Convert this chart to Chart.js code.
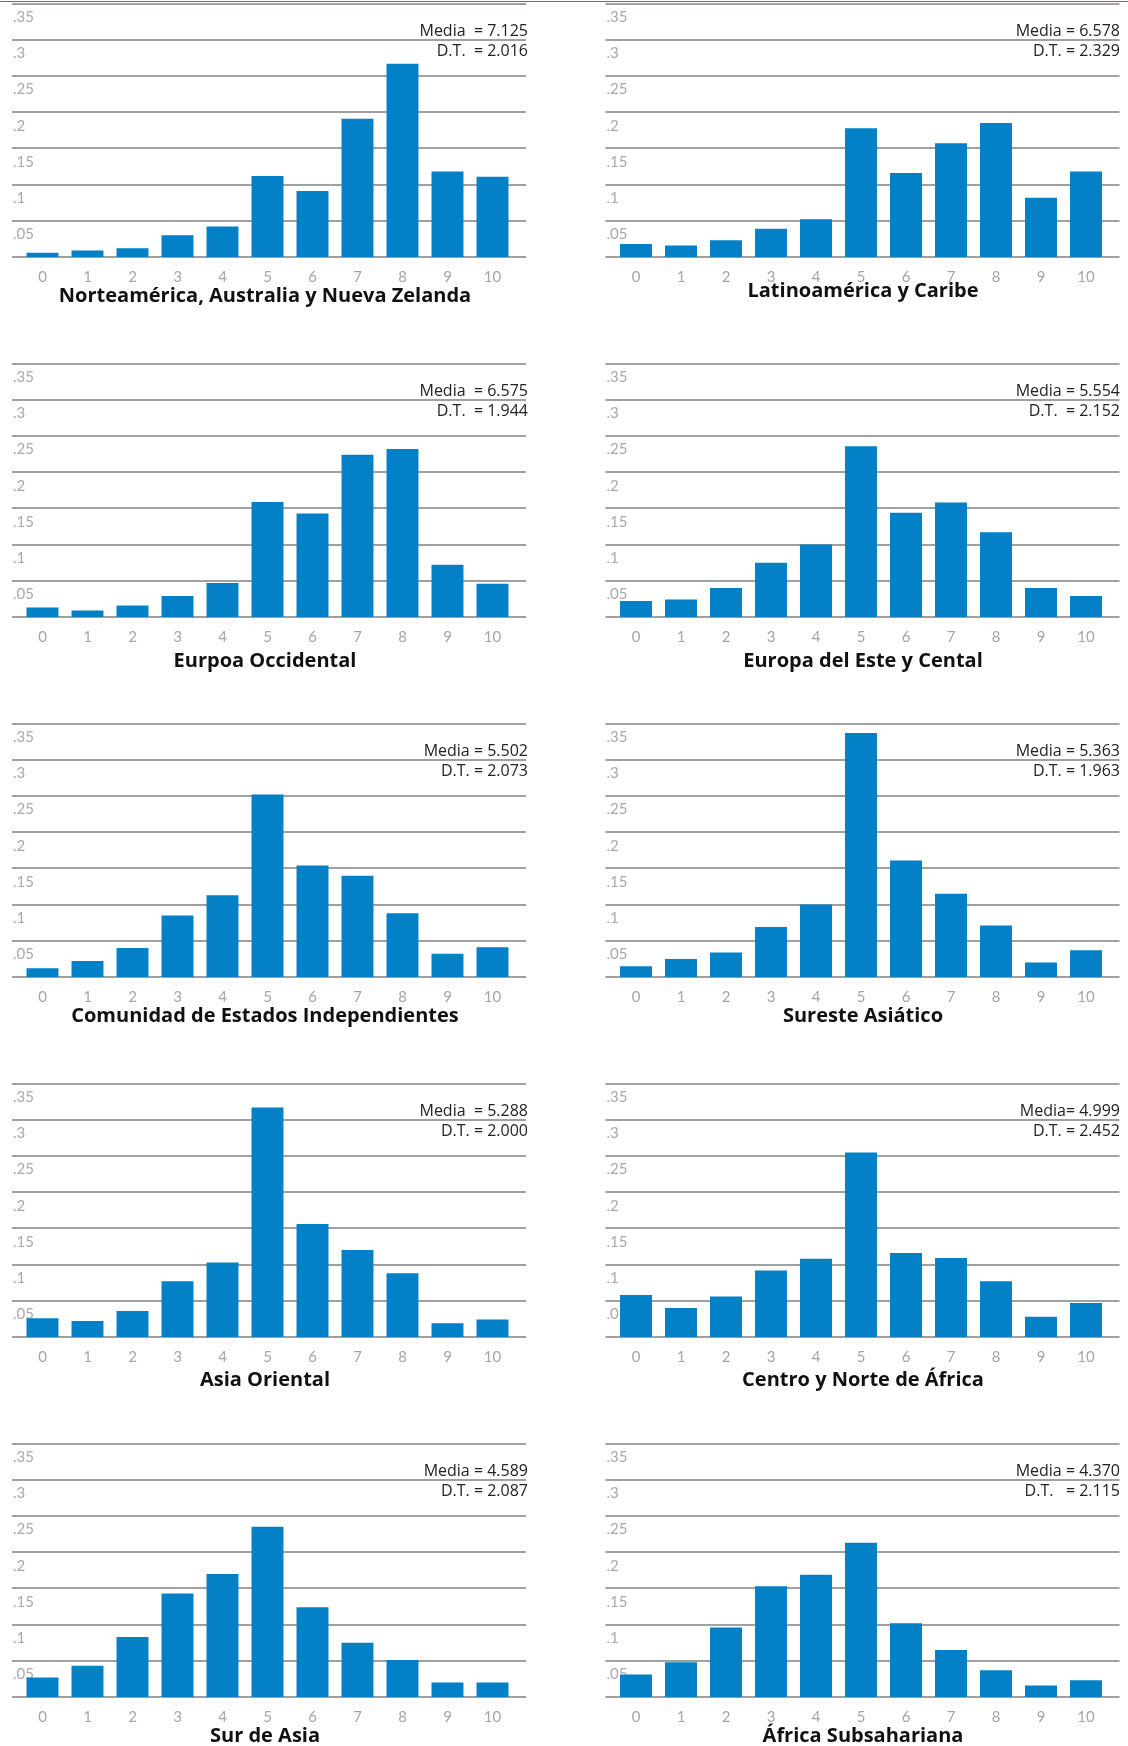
<!DOCTYPE html>
<html>
<head>
<meta charset="utf-8">
<script src="https://cdn.jsdelivr.net/npm/chart.js@4.4.1/dist/chart.umd.min.js"></script>
<style>
  html, body { margin: 0; padding: 0; background: #fff; }
  body { width: 1128px; height: 1746px; position: relative; overflow: hidden; font-family: "Open Sans", sans-serif; }
  .topline { position: absolute; left: 0; top: 1px; width: 1128px; border-top: 1.5px solid #4472c4; }
  .panel { position: absolute; width: 564px; height: 320px; }
  .stats { position: absolute; width: 300px; text-align: right; white-space: pre; font-size: 16px; line-height: 20.5px; color: #222; }
  .title { position: absolute; width: 600px; text-align: center; font-weight: 700; font-size: 20px; line-height: 26px; color: #111; }
</style>
</head>
<body>
<div class="topline"></div>
<script>
const CATEGORIES = ['0', '1', '2', '3', '4', '5', '6', '7', '8', '9', '10'];
const Y_TICK_LABELS = ['', '.05', '.1', '.15', '.2', '.25', '.3', '.35'];

const REGIONS = [
  'Norteamérica, Australia y Nueva Zelanda', 'Latinoamérica y Caribe',
  'Eurpoa Occidental', 'Europa del Este y Cental',
  'Comunidad de Estados Independientes', 'Sureste Asiático',
  'Asia Oriental', 'Centro y Norte de África',
  'Sur de Asia', 'África Subsahariana'
];

const NORTEAMERICA = [0.006, 0.009, 0.012, 0.030, 0.042, 0.112, 0.091, 0.191, 0.267, 0.118, 0.111];
const LATINOAMERICA = [0.018, 0.016, 0.023, 0.039, 0.052, 0.178, 0.116, 0.157, 0.185, 0.082, 0.118];
const EUROPA_OCC = [0.013, 0.009, 0.016, 0.029, 0.047, 0.159, 0.143, 0.224, 0.232, 0.072, 0.046];
const EUROPA_ESTE = [0.022, 0.024, 0.040, 0.075, 0.100, 0.236, 0.144, 0.158, 0.117, 0.040, 0.029];
const CEI = [0.012, 0.022, 0.040, 0.085, 0.113, 0.252, 0.154, 0.140, 0.088, 0.032, 0.041];
const SURESTE_ASIA = [0.015, 0.025, 0.034, 0.069, 0.100, 0.337, 0.161, 0.115, 0.071, 0.020, 0.037];
const ASIA_ORIENTAL = [0.026, 0.022, 0.036, 0.077, 0.103, 0.317, 0.156, 0.120, 0.088, 0.019, 0.024];
const AFRICA_NORTE = [0.058, 0.040, 0.056, 0.092, 0.108, 0.255, 0.116, 0.109, 0.077, 0.028, 0.047];
const SUR_ASIA = [0.027, 0.043, 0.083, 0.143, 0.170, 0.235, 0.124, 0.075, 0.051, 0.020, 0.020];
const AFRICA_SUB = [0.031, 0.048, 0.096, 0.153, 0.169, 0.213, 0.102, 0.065, 0.037, 0.016, 0.023];

const SERIES = [NORTEAMERICA, LATINOAMERICA, EUROPA_OCC, EUROPA_ESTE, CEI,
                SURESTE_ASIA, ASIA_ORIENTAL, AFRICA_NORTE, SUR_ASIA, AFRICA_SUB];

const MEDIA = ['Media  = 7.125', 'Media = 6.578', 'Media  = 6.575', 'Media = 5.554', 'Media = 5.502',
               'Media = 5.363', 'Media  = 5.288', 'Media= 4.999', 'Media = 4.589', 'Media = 4.370'];
const DT = ['D.T.  = 2.016', 'D.T. = 2.329', 'D.T.  = 1.944', 'D.T.  = 2.152', 'D.T. = 2.073',
            'D.T. = 1.963', 'D.T. = 2.000', 'D.T. = 2.452', 'D.T. = 2.087', 'D.T.   = 2.115'];

// layout (page pixels)
const ROW_PITCH = 360;
const FIRST_BASELINE = 257;
const TITLE_DY = [38, 33, 43, 43, 38, 38, 42, 42, 38, 38];
const BAR_COLOR = '#0480c6';

// horizontal gridlines + inside tick labels, wider than the bar area
const bandGrid = {
  id: 'bandGrid',
  beforeDatasetsDraw(chart) {
    const {ctx, chartArea: a, scales: {y}} = chart;
    const x0 = a.left - 8, x1 = a.right + 11;
    ctx.save();
    ctx.strokeStyle = '#a0a0a0';
    ctx.lineWidth = 2;
    y.ticks.forEach(t => {
      const py = Math.round(y.getPixelForValue(t.value));
      ctx.beginPath();
      ctx.moveTo(x0, py);
      ctx.lineTo(x1, py);
      ctx.stroke();
    });
    ctx.fillStyle = '#a9a9a9';
    ctx.font = '15px Lato';
    ctx.textAlign = 'left';
    ctx.textBaseline = 'middle';
    y.ticks.forEach(t => {
      const lbl = Y_TICK_LABELS[Math.round(t.value / 0.05)];
      if (lbl) ctx.fillText(lbl, x0 + 1, y.getPixelForValue(t.value) + 13.5);
    });
    ctx.restore();
  }
};

SERIES.forEach((values, i) => {
  const row = Math.floor(i / 2), col = i % 2;
  const base = FIRST_BASELINE + ROW_PITCH * row;

  const box = document.createElement('div');
  box.className = 'panel';
  box.style.left = (564 * col) + 'px';
  box.style.top = (base - 267) + 'px';
  const cv = document.createElement('canvas');
  box.appendChild(cv);
  document.body.appendChild(box);

  const stats = document.createElement('div');
  stats.className = 'stats';
  stats.style.left = ((col ? 1120 : 528) - 300) + 'px';
  stats.style.top = (base - 237.5) + 'px';
  stats.textContent = MEDIA[i] + '\n' + DT[i];
  document.body.appendChild(stats);

  const title = document.createElement('div');
  title.className = 'title';
  title.style.left = ((col ? 863 : 265) - 300) + 'px';
  title.style.top = (base + TITLE_DY[i] - 13) + 'px';
  title.textContent = REGIONS[i];
  document.body.appendChild(title);

  new Chart(cv, {
    type: 'bar',
    data: {
      labels: CATEGORIES,
      datasets: [{
        data: values,
        backgroundColor: BAR_COLOR,
        barPercentage: 0.71,
        categoryPercentage: 1
      }]
    },
    options: {
      responsive: true,
      maintainAspectRatio: false,
      animation: false,
      layout: { padding: { left: col ? 49.5 : 20, right: col ? 19.5 : 49, top: 13.6, bottom: 13 } },
      plugins: { legend: { display: false }, tooltip: { enabled: false } },
      scales: {
        x: {
          grid: { display: false },
          border: { display: false },
          ticks: { color: '#a5a5a5', font: { family: 'Lato', size: 15 }, padding: 3 },
          afterFit: s => { s.height = 40; }
        },
        y: {
          display: false,
          min: 0,
          max: 0.35,
          ticks: { stepSize: 0.05 }
        }
      }
    },
    plugins: [bandGrid]
  });
});
</script>
</body>
</html>
